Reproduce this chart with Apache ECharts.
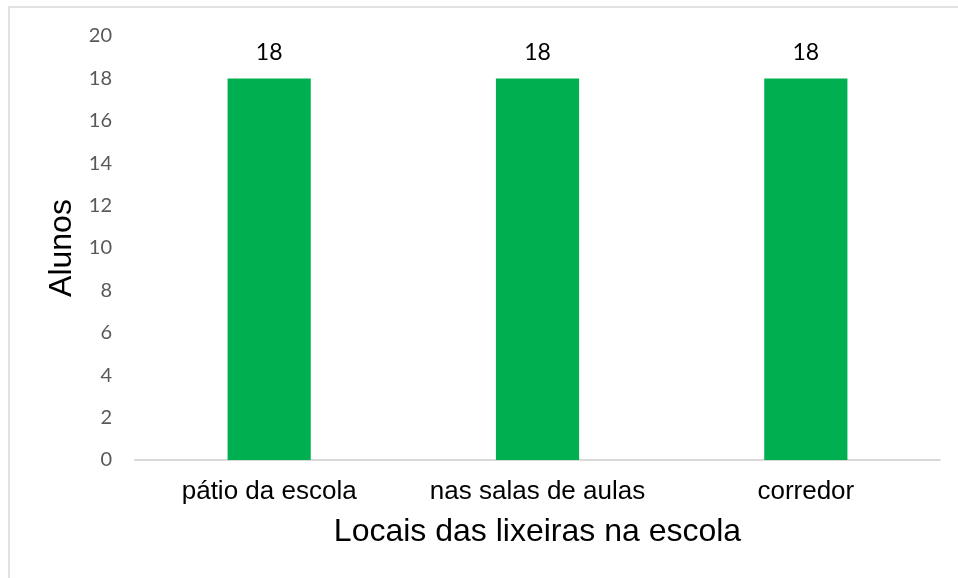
<!DOCTYPE html>
<html>
<head>
<meta charset="utf-8">
<script src="https://cdn.jsdelivr.net/npm/echarts@6/dist/echarts.min.js"></script>
<style>
  html, body { margin: 0; padding: 0; background: #fff; }
  #chart { width: 958px; height: 578px; }
</style>
</head>
<body>
<div id="chart"></div>
<script>
// Locais das lixeiras na escola — número de alunos por local
const categories = ['pátio da escola', 'nas salas de aulas', 'corredor'];
const alunos = [18, 18, 18];
const yMin = 0;
const yMax = 20;
const yStep = 2;

const chart = echarts.init(document.getElementById('chart'), null, { renderer: 'canvas' });

chart.setOption({
  backgroundColor: '#ffffff',
  animation: false,
  graphic: [{
    type: 'rect',
    shape: { x: 9, y: 7, width: 1000, height: 700 },
    style: { fill: 'none', stroke: '#d9d9d9', lineWidth: 1.5 },
    silent: true
  }],
  grid: { left: 135, right: 18, top: 36, bottom: 118 },
  xAxis: {
    type: 'category',
    data: categories,
    name: 'Locais das lixeiras na escola',
    nameLocation: 'middle',
    nameGap: 56,
    nameTextStyle: { fontFamily: 'Liberation Sans, Arial', fontSize: 32, color: '#000' },
    axisLine: { show: true, lineStyle: { color: '#d9d9d9', width: 2 } },
    axisTick: { show: false },
    axisLabel: {
      interval: 0,
      hideOverlap: false,
      fontFamily: 'Liberation Sans, Arial',
      fontSize: 26,
      color: '#000',
      margin: 19
    }
  },
  yAxis: {
    type: 'value',
    min: yMin,
    max: yMax,
    interval: yStep,
    name: 'Alunos',
    nameLocation: 'middle',
    nameGap: 57,
    nameTextStyle: { fontFamily: 'Liberation Sans, Arial', fontSize: 32, color: '#000' },
    axisLine: { show: false },
    axisTick: { show: false },
    splitLine: { show: false },
    axisLabel: { fontFamily: 'Lato, Open Sans', fontSize: 20, color: '#595959', margin: 23 }
  },
  series: [{
    type: 'bar',
    data: alunos,
    barWidth: '31%',
    itemStyle: { color: '#00b050' },
    label: {
      show: true,
      position: 'top',
      distance: 14,
      fontFamily: 'Lato, Open Sans',
      fontSize: 23,
      color: '#000'
    }
  }]
});
</script>
</body>
</html>
